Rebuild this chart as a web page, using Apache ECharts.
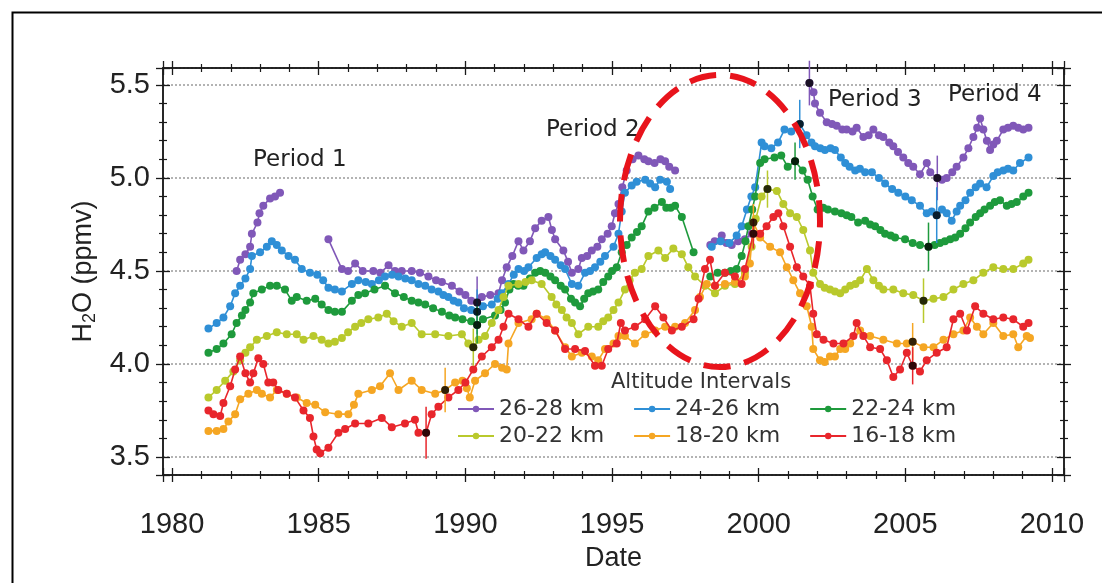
<!DOCTYPE html>
<html>
<head>
<meta charset="utf-8">
<script src="https://cdn.jsdelivr.net/npm/echarts@6.0.0/dist/echarts.min.js"></script>
<style>
html,body{margin:0;padding:0;background:#fff;}
#c{width:1102px;height:583px;}
</style>
</head>
<body>
<div id="c"></div>
<script>
// ---------- DATA (decimal year, H2O ppmv); null = gap in record ----------
const seriesNames = ['26-28 km','24-26 km','22-24 km','20-22 km','18-20 km','16-18 km'];
const seriesColors = ['#8058b8','#2f8fd6','#1e9a3c','#b9c92c','#f5a623','#e8262c'];

const alt26_28 = [
 [1982.2,4.50],[1982.32,4.56],[1982.5,4.59],[1982.66,4.63],[1982.72,4.70],[1982.91,4.76],[1982.98,4.81],[1983.11,4.85],[1983.34,4.89],[1983.51,4.90],[1983.68,4.92],
 null,
 [1985.33,4.67],[1985.79,4.51],[1986.0,4.50],[1986.24,4.54],[1986.5,4.50],[1986.86,4.50],[1987.1,4.49],[1987.38,4.53],[1987.6,4.50],[1987.83,4.50],[1988.17,4.50],[1988.45,4.49],[1988.74,4.47],[1989.0,4.45],[1989.2,4.44],[1989.54,4.42],[1989.8,4.39],[1990.0,4.37],[1990.2,4.34],[1990.4,4.33],[1990.56,4.36],[1990.85,4.37],[1991.13,4.38],[1991.25,4.45],[1991.41,4.52],[1991.6,4.58],[1991.81,4.66],[1991.98,4.61],[1992.2,4.66],[1992.38,4.73],[1992.6,4.77],[1992.83,4.79],[1992.95,4.72],[1993.06,4.67],[1993.34,4.61],[1993.5,4.55],[1993.63,4.49],[1993.85,4.51],[1993.97,4.57],[1994.15,4.58],[1994.31,4.61],[1994.5,4.63],[1994.65,4.67],[1994.85,4.70],[1994.99,4.74],[1995.1,4.81],[1995.22,4.86],[1995.35,4.95],[1995.5,5.04],[1995.7,5.10],[1995.9,5.12],[1996.1,5.10],[1996.24,5.09],[1996.45,5.08],[1996.65,5.10],[1996.81,5.09],[1996.95,5.06],[1997.15,5.04],
 null,
 [1998.35,4.64],[1998.5,4.66],[1998.74,4.69],[1998.9,4.65],[1999.08,4.64],[1999.3,4.66],[1999.53,4.67],[1999.76,4.70],
 null,
 [2001.73,5.51],[2001.87,5.46],[2001.92,5.40],[2002.09,5.35],[2002.32,5.30],[2002.5,5.29],[2002.66,5.28],[2002.85,5.26],[2003.0,5.26],[2003.2,5.25],[2003.34,5.27],[2003.57,5.22],[2003.75,5.23],[2003.91,5.26],[2004.1,5.23],[2004.25,5.22],[2004.45,5.19],[2004.59,5.17],[2004.75,5.14],[2004.93,5.11],[2005.1,5.08],[2005.27,5.06],[2005.5,5.02],[2005.73,5.08],[2005.85,5.03],[2006.09,5.00],[2006.25,4.99],[2006.41,5.00],[2006.6,5.03],[2006.75,5.06],[2006.98,5.11],[2007.15,5.16],[2007.32,5.22],[2007.45,5.27],[2007.55,5.32],[2007.66,5.26],[2007.78,5.20],[2007.89,5.15],[2008.0,5.18],[2008.12,5.20],[2008.34,5.26],[2008.5,5.27],[2008.68,5.28],[2008.85,5.27],[2009.02,5.26],[2009.2,5.27]
];

const alt24_26 = [
 [1981.24,4.19],[1981.52,4.22],[1981.75,4.25],[1981.98,4.31],[1982.15,4.38],[1982.32,4.42],[1982.5,4.46],[1982.66,4.51],[1982.72,4.58],[1983.0,4.60],[1983.23,4.63],[1983.4,4.66],[1983.57,4.64],[1983.74,4.61],[1983.97,4.58],[1984.19,4.56],[1984.42,4.51],[1984.7,4.49],[1984.95,4.48],[1985.15,4.45],[1985.33,4.41],[1985.55,4.40],[1985.79,4.39],[1986.13,4.43],[1986.35,4.45],[1986.6,4.44],[1986.81,4.43],[1987.05,4.45],[1987.26,4.47],[1987.5,4.48],[1987.72,4.47],[1987.95,4.46],[1988.17,4.45],[1988.4,4.43],[1988.63,4.42],[1988.85,4.40],[1989.08,4.39],[1989.25,4.37],[1989.42,4.36],[1989.6,4.34],[1989.76,4.33],[1989.95,4.30],[1990.2,4.29],[1990.4,4.28],[1990.6,4.31],[1990.9,4.32],[1991.1,4.35],[1991.24,4.38],[1991.47,4.43],[1991.65,4.48],[1991.81,4.51],[1992.0,4.50],[1992.15,4.52],[1992.43,4.57],[1992.6,4.59],[1992.72,4.60],[1992.9,4.58],[1993.06,4.56],[1993.25,4.53],[1993.4,4.51],[1993.63,4.43],[1993.85,4.42],[1994.08,4.49],[1994.25,4.50],[1994.42,4.52],[1994.6,4.55],[1994.76,4.58],[1995.05,4.63],[1995.22,4.70],[1995.33,4.82],[1995.44,4.92],[1995.67,4.96],[1995.84,4.98],[1996.13,4.99],[1996.3,4.97],[1996.47,4.95],[1996.64,4.99],[1996.87,4.98],[1996.98,4.94],
 null,
 [1998.4,4.63],[1998.7,4.66],[1999.0,4.65],[1999.25,4.69],[1999.42,4.74],[1999.6,4.83],[1999.75,4.90],[1999.88,4.95],[2000.1,5.19],[2000.2,5.17],[2000.43,5.16],[2000.66,5.19],[2000.88,5.26],[2001.11,5.25],[2001.4,5.29],[2001.63,5.23],[2001.8,5.19],[2001.92,5.17],[2002.1,5.16],[2002.26,5.15],[2002.45,5.16],[2002.6,5.15],[2002.8,5.11],[2002.95,5.08],[2003.1,5.06],[2003.29,5.04],[2003.45,5.05],[2003.63,5.03],[2003.86,5.03],[2004.1,5.00],[2004.31,4.97],[2004.55,4.94],[2004.76,4.92],[2005.0,4.90],[2005.22,4.88],[2005.5,4.85],[2005.73,4.81],[2005.9,4.82],[2006.07,4.80],[2006.25,4.83],[2006.41,4.81],[2006.58,4.77],[2006.75,4.82],[2006.87,4.85],[2007.05,4.88],[2007.21,4.92],[2007.4,4.95],[2007.55,4.97],[2007.77,4.95],[2008.0,5.01],[2008.15,5.03],[2008.34,5.04],[2008.5,5.05],[2008.68,5.04],[2008.91,5.08],[2009.2,5.11]
];

const alt22_24 = [
 [1981.24,4.06],[1981.52,4.08],[1981.75,4.11],[1982.03,4.16],[1982.2,4.22],[1982.38,4.26],[1982.5,4.29],[1982.66,4.33],[1982.77,4.38],[1983.06,4.40],[1983.34,4.42],[1983.57,4.42],[1983.85,4.40],[1984.08,4.34],[1984.25,4.36],[1984.59,4.34],[1984.88,4.35],[1985.1,4.32],[1985.33,4.29],[1985.55,4.28],[1985.79,4.28],[1986.13,4.34],[1986.35,4.37],[1986.58,4.38],[1986.9,4.40],[1987.26,4.42],[1987.6,4.38],[1987.9,4.36],[1988.17,4.34],[1988.4,4.33],[1988.63,4.32],[1988.9,4.30],[1989.2,4.28],[1989.45,4.26],[1989.65,4.25],[1989.9,4.24],[1990.2,4.23],[1990.4,4.21],[1990.6,4.24],[1991.01,4.26],[1991.2,4.29],[1991.35,4.33],[1991.5,4.40],[1991.64,4.43],[1991.8,4.42],[1991.98,4.42],[1992.2,4.46],[1992.38,4.49],[1992.55,4.50],[1992.72,4.49],[1992.9,4.47],[1993.06,4.45],[1993.25,4.42],[1993.4,4.40],[1993.6,4.35],[1993.74,4.33],[1993.91,4.31],[1994.05,4.35],[1994.19,4.38],[1994.35,4.39],[1994.53,4.40],[1994.7,4.44],[1994.87,4.47],[1995.0,4.50],[1995.16,4.52],[1995.33,4.60],[1995.5,4.64],[1995.67,4.68],[1995.85,4.71],[1996.01,4.74],[1996.24,4.82],[1996.45,4.84],[1996.7,4.87],[1996.85,4.84],[1997.0,4.84],[1997.15,4.85],[1997.38,4.79],[1997.78,4.60],
 null,
 [1998.35,4.47],[1998.6,4.49],[1998.85,4.49],[1999.05,4.50],[1999.25,4.51],[1999.42,4.58],[1999.55,4.66],[1999.65,4.74],[1999.78,4.83],[1999.88,4.90],[2000.05,5.08],[2000.2,5.10],[2000.54,5.11],[2000.77,5.12],[2000.99,5.06],[2001.24,5.09],[2001.5,5.04],[2001.67,4.99],[2001.84,4.90],[2002.01,4.83],[2002.2,4.84],[2002.36,4.83],[2002.6,4.82],[2002.82,4.81],[2003.0,4.80],[2003.16,4.79],[2003.39,4.76],[2003.63,4.77],[2003.8,4.75],[2003.97,4.74],[2004.15,4.72],[2004.31,4.70],[2004.5,4.69],[2004.65,4.68],[2004.99,4.67],[2005.25,4.65],[2005.5,4.64],[2005.79,4.63],[2006.0,4.64],[2006.18,4.65],[2006.35,4.66],[2006.53,4.67],[2006.7,4.68],[2006.87,4.70],[2007.05,4.73],[2007.21,4.76],[2007.4,4.79],[2007.55,4.81],[2007.7,4.83],[2007.89,4.85],[2008.05,4.87],[2008.23,4.88],[2008.46,4.85],[2008.62,4.86],[2008.8,4.87],[2009.02,4.90],[2009.2,4.92]
];

const alt20_22 = [
 [1981.24,3.82],[1981.52,3.86],[1981.81,3.91],[1982.09,3.96],[1982.32,4.02],[1982.5,4.06],[1982.66,4.09],[1982.89,4.13],[1983.23,4.15],[1983.57,4.17],[1983.91,4.16],[1984.25,4.16],[1984.48,4.13],[1984.82,4.15],[1985.1,4.13],[1985.33,4.11],[1985.55,4.12],[1985.79,4.14],[1986.0,4.17],[1986.24,4.20],[1986.45,4.22],[1986.69,4.24],[1987.03,4.25],[1987.32,4.27],[1987.55,4.23],[1987.83,4.20],[1988.17,4.22],[1988.51,4.16],[1988.97,4.16],[1989.42,4.15],[1989.88,4.16],[1990.1,4.11],[1990.27,4.09],[1990.45,4.13],[1990.67,4.15],[1990.9,4.22],[1991.13,4.29],[1991.3,4.36],[1991.47,4.42],[1991.81,4.43],[1992.05,4.44],[1992.26,4.45],[1992.6,4.43],[1992.94,4.36],[1993.1,4.32],[1993.29,4.29],[1993.45,4.25],[1993.63,4.22],[1993.85,4.16],[1994.19,4.20],[1994.53,4.20],[1994.7,4.23],[1994.87,4.25],[1995.05,4.29],[1995.22,4.33],[1995.44,4.40],[1995.6,4.45],[1995.78,4.49],[1996.01,4.51],[1996.24,4.58],[1996.58,4.61],[1996.81,4.57],[1997.09,4.62],[1997.38,4.59],[1997.6,4.52],[1997.83,4.47],[1998.17,4.42],[1998.51,4.38],[1998.85,4.42],[1999.19,4.43],[1999.53,4.49],[1999.76,4.63],[1999.9,4.78],[2000.1,4.90],[2000.3,4.94],[2000.62,4.93],[2000.84,4.86],[2001.07,4.81],[2001.3,4.79],[2001.52,4.72],[2001.75,4.61],[2001.86,4.49],[2002.09,4.43],[2002.25,4.41],[2002.43,4.40],[2002.6,4.39],[2002.78,4.38],[2002.95,4.40],[2003.12,4.42],[2003.3,4.43],[2003.46,4.45],[2003.69,4.51],[2003.91,4.45],[2004.1,4.42],[2004.25,4.40],[2004.59,4.40],[2004.93,4.38],[2005.27,4.37],[2005.62,4.34],[2005.96,4.35],[2006.3,4.36],[2006.64,4.40],[2006.98,4.43],[2007.32,4.45],[2007.66,4.49],[2008.0,4.52],[2008.34,4.51],[2008.68,4.51],[2009.02,4.54],[2009.2,4.56]
];

const alt18_20 = [
 [1981.24,3.64],[1981.52,3.64],[1981.75,3.65],[1981.92,3.69],[1982.15,3.73],[1982.32,3.81],[1982.6,3.84],[1982.89,3.86],[1983.06,3.84],[1983.34,3.82],[1983.57,3.86],[1983.91,3.84],[1984.25,3.82],[1984.59,3.79],[1984.88,3.78],[1985.22,3.74],[1985.67,3.73],[1986.01,3.73],[1986.2,3.78],[1986.35,3.84],[1986.81,3.86],[1987.09,3.88],[1987.43,3.95],[1987.72,3.86],[1988.17,3.91],[1988.51,3.86],[1988.97,3.84],[1989.31,3.86],[1989.65,3.90],[1989.9,3.91],[1990.05,3.87],[1990.15,3.82],[1990.33,3.91],[1990.67,3.95],[1991.01,4.00],[1991.25,3.98],[1991.41,3.97],[1991.47,4.11],[1991.81,4.22],[1992.26,4.24],[1992.43,4.27],[1992.77,4.24],[1993.06,4.18],[1993.4,4.09],[1993.63,4.04],[1993.97,4.06],[1994.31,4.04],[1994.53,4.02],[1994.76,4.08],[1995.05,4.11],[1995.22,4.15],[1995.44,4.15],[1995.78,4.11],[1996.13,4.16],[1996.47,4.18],[1996.81,4.20],[1997.15,4.20],[1997.49,4.22],[1997.83,4.29],[1998.0,4.36],[1998.23,4.43],[1998.51,4.42],[1998.85,4.43],[1999.19,4.44],[1999.53,4.47],[1999.7,4.54],[1999.82,4.76],[2000.05,4.68],[2000.39,4.63],[2000.73,4.60],[2000.96,4.52],[2001.18,4.45],[2001.41,4.38],[2001.64,4.31],[2001.81,4.20],[2001.86,4.08],[2002.09,4.02],[2002.25,4.01],[2002.43,4.04],[2002.6,4.04],[2002.78,4.08],[2002.95,4.08],[2003.12,4.11],[2003.46,4.18],[2003.8,4.15],[2004.25,4.13],[2004.71,4.11],[2005.05,4.11],[2005.25,4.12],[2005.62,4.09],[2005.96,4.09],[2006.3,4.13],[2006.64,4.16],[2006.98,4.18],[2007.21,4.25],[2007.44,4.20],[2007.66,4.16],[2008.0,4.22],[2008.34,4.15],[2008.68,4.16],[2008.85,4.09],[2009.14,4.15],[2009.25,4.14]
];

const alt16_18 = [
 [1981.24,3.75],[1981.41,3.73],[1981.64,3.72],[1981.75,3.79],[1981.98,3.88],[1982.15,3.97],[1982.32,4.04],[1982.5,3.95],[1982.66,3.90],[1982.77,3.95],[1982.94,4.03],[1983.11,4.00],[1983.28,3.90],[1983.45,3.90],[1983.62,3.86],[1983.91,3.84],[1984.19,3.82],[1984.48,3.75],[1984.7,3.71],[1984.82,3.61],[1984.93,3.54],[1985.05,3.52],[1985.33,3.55],[1985.67,3.63],[1985.9,3.65],[1986.24,3.68],[1986.69,3.68],[1987.15,3.71],[1987.49,3.66],[1987.94,3.68],[1988.28,3.70],[1988.4,3.63],[1988.66,3.63],[1988.85,3.73],[1989.08,3.77],[1989.42,3.82],[1989.76,3.86],[1990.0,3.90],[1990.27,3.97],[1990.56,4.04],[1990.9,4.09],[1991.13,4.13],[1991.3,4.20],[1991.47,4.27],[1991.81,4.24],[1992.15,4.20],[1992.43,4.27],[1992.77,4.22],[1993.06,4.18],[1993.4,4.08],[1993.74,4.08],[1994.08,4.07],[1994.42,3.99],[1994.65,3.99],[1994.87,4.08],[1995.16,4.11],[1995.3,4.22],[1995.44,4.18],[1995.78,4.20],[1996.13,4.24],[1996.47,4.31],[1996.75,4.25],[1997.04,4.18],[1997.38,4.20],[1997.78,4.24],[1997.95,4.35],[1998.17,4.51],[1998.34,4.56],[1998.51,4.42],[1998.85,4.49],[1999.19,4.47],[1999.42,4.43],[1999.53,4.51],[1999.82,4.70],[2000.05,4.70],[2000.27,4.74],[2000.5,4.79],[2000.67,4.81],[2000.84,4.74],[2001.07,4.63],[2001.3,4.52],[2001.52,4.47],[2001.75,4.42],[2001.86,4.27],[2001.98,4.16],[2002.21,4.13],[2002.55,4.11],[2002.89,4.11],[2003.23,4.15],[2003.34,4.22],[2003.57,4.15],[2003.8,4.09],[2004.14,4.08],[2004.37,4.02],[2004.59,3.93],[2004.82,3.97],[2005.05,4.06],[2005.25,3.99],[2005.5,3.96],[2005.73,4.02],[2006.07,4.06],[2006.41,4.09],[2006.64,4.24],[2006.87,4.27],[2007.1,4.18],[2007.38,4.31],[2007.66,4.27],[2008.0,4.24],[2008.34,4.25],[2008.68,4.24],[2009.02,4.20],[2009.2,4.22]
];

// period-boundary points: [year, ppmv, half error bar, series index]
const boundaryPoints = [
 [1990.4,4.33,0.14,0],[1990.4,4.28,0.12,1],[1990.4,4.21,0.10,2],[1990.27,4.09,0.10,3],[1989.31,3.86,0.12,4],[1988.66,3.63,0.14,5],
 [2001.73,5.51,0.12,0],[2001.4,5.29,0.13,1],[2001.24,5.09,0.10,2],[2000.3,4.94,0.10,3],[1999.82,4.76,0.10,4],[1999.82,4.70,0.08,5],
 [2006.09,5.00,0.12,0],[2006.07,4.80,0.15,1],[2005.79,4.63,0.13,2],[2005.62,4.34,0.12,3],[2005.25,4.12,0.10,4],[2005.25,3.99,0.10,5]
];

const periodLabels = ['Period 1','Period 2','Period 3','Period 4'];
const xTickYears = [1980,1985,1990,1995,2000,2005,2010];
const yTickValues = [3.5,4.0,4.5,5.0,5.5];

// ---------- CHART ----------
const allSeriesData = [alt26_28, alt24_26, alt22_24, alt20_22, alt18_20, alt16_18];
const toLine = arr => arr.map(p => p === null ? ['-','-'] : p);

const X_MIN = 1979.69, X_MAX = 2010.41, Y_MIN = 3.403, Y_MAX = 5.591;
const AX = '#1a1a1a';
const tickFont = 'Liberation Sans';
const txtFont = 'DejaVu Sans';

function xAx(pos, inside, withLabel) {
  return {
    type: 'value', position: pos, min: X_MIN, max: X_MAX, splitNumber: 6, gridIndex: 0,
    axisLine: {show: true, lineStyle: {color: AX, width: 1.5}},
    axisTick: {show: true, inside: inside, length: 7, lineStyle: {color: AX, width: 1.3}},
    minorTick: {show: true, splitNumber: 5, length: 4, lineStyle: {color: AX, width: 1.2}},
    splitLine: {show: false}, minorSplitLine: {show: false},
    axisLabel: withLabel ? {
      show: true, fontFamily: tickFont, fontSize: 29, color: '#222', margin: 35,
      showMinLabel: false, showMaxLabel: false,
      formatter: v => (xTickYears.indexOf(Math.round(v)) >= 0 && Math.abs(v - Math.round(v)) < 1e-6) ? String(Math.round(v)) : ''
    } : {show: false},
    name: withLabel ? 'Date' : '', nameLocation: 'middle', nameGap: 70,
    nameTextStyle: {fontFamily: tickFont, fontSize: 27, color: '#222'}
  };
}
function yAx(pos, inside, withLabel, withSplit) {
  return {
    type: 'value', position: pos, min: Y_MIN, max: Y_MAX, splitNumber: 4, gridIndex: 0,
    axisLine: {show: true, lineStyle: {color: AX, width: 1.5}},
    axisTick: {show: true, inside: inside, length: 7, lineStyle: {color: AX, width: 1.3}},
    minorTick: {show: true, splitNumber: 5, length: 4, lineStyle: {color: AX, width: 1.2}},
    splitLine: withSplit ? {show: true, lineStyle: {color: '#9a9a9a', type: [2, 2], width: 1.5}} : {show: false},
    minorSplitLine: {show: false},
    axisLabel: withLabel ? {
      show: true, fontFamily: tickFont, fontSize: 29, color: '#222', margin: 13,
      showMinLabel: false, showMaxLabel: false,
      formatter: v => {
        const r = Math.round(v * 10) / 10;
        return (Math.abs(v - r) < 1e-6 && yTickValues.some(t => Math.abs(t - r) < 1e-6)) ? r.toFixed(1) : '';
      }
    } : {show: false},
    name: withLabel ? '{a|H}{b|2}{a|O (ppmv)}' : '', nameLocation: 'middle', nameGap: 50, nameRotate: 90,
    nameTextStyle: {
      color: '#222',
      rich: {
        a: {fontFamily: tickFont, fontSize: 27, color: '#222', lineHeight: 30, verticalAlign: 'middle'},
        b: {fontFamily: tickFont, fontSize: 18, color: '#222', lineHeight: 30, verticalAlign: 'bottom', padding: [10, 0, 0, 0]}
      }
    }
  };
}

const series = [];
allSeriesData.forEach((arr, i) => {
  series.push({
    name: seriesNames[i], type: 'line', xAxisIndex: 0, yAxisIndex: 0,
    data: toLine(arr), connectNulls: false, clip: false,
    symbol: 'circle', symbolSize: 8, showSymbol: true,
    itemStyle: {color: seriesColors[i]},
    lineStyle: {color: seriesColors[i], width: 1.6},
    emphasis: {disabled: true}, z: 2 + i
  });
});
series.push({
  type: 'custom', name: 'errbars', xAxisIndex: 0, yAxisIndex: 0, z: 9,
  data: boundaryPoints, encode: {x: 0, y: 1},
  renderItem: (params, api) => {
    const x = api.value(0), y = api.value(1), e = api.value(2), c = seriesColors[api.value(3)];
    const a = api.coord([x, y + e]), b = api.coord([x, y - e]);
    return {type: 'line', shape: {x1: a[0], y1: a[1], x2: b[0], y2: b[1]}, style: {stroke: c, lineWidth: 1.5}};
  }
});
series.push({
  type: 'scatter', name: 'boundary', xAxisIndex: 0, yAxisIndex: 0, z: 10,
  data: boundaryPoints.map(p => [p[0], p[1]]),
  symbol: 'circle', symbolSize: 8, itemStyle: {color: '#000'}, emphasis: {disabled: true}
});

const legendCommon = {
  orient: 'horizontal', itemWidth: 36, itemHeight: 8, itemGap: 29, selectedMode: false,
  textStyle: {fontFamily: txtFont, fontSize: 22, color: '#333'}, padding: 0
};

const option = {
  animation: false,
  backgroundColor: '#fff',
  grid: {left: 163, right: 38, top: 68, bottom: 108, containLabel: false},
  xAxis: [xAx('bottom', false, true), xAx('bottom', true, false), xAx('top', false, false), xAx('top', true, false)],
  yAxis: [yAx('left', false, true, true), yAx('left', true, false, false), yAx('right', false, false, false), yAx('right', true, false, false)],
  legend: [
    Object.assign({}, legendCommon, {data: seriesNames.slice(0, 3), left: 457, top: 398}),
    Object.assign({}, legendCommon, {data: seriesNames.slice(3), left: 457, top: 425})
  ],
  graphic: [
    {type: 'rect', left: 10, top: 10, shape: {width: 1200, height: 1000}, style: {fill: 'none', stroke: '#000', lineWidth: 2}, z: 0, silent: true},
    {type: 'text', x: 611, y: 372, style: {text: 'Altitude Intervals', fontFamily: txtFont, fontSize: 21, fill: '#333'}, z: 20},
    {type: 'text', x: 253, y: 149, style: {text: periodLabels[0], fontFamily: txtFont, fontSize: 23, fill: '#222'}, z: 20},
    {type: 'text', x: 546, y: 119, style: {text: periodLabels[1], fontFamily: txtFont, fontSize: 23, fill: '#222'}, z: 20},
    {type: 'text', x: 828, y: 89, style: {text: periodLabels[2], fontFamily: txtFont, fontSize: 23, fill: '#222'}, z: 20},
    {type: 'text', x: 948, y: 84, style: {text: periodLabels[3], fontFamily: txtFont, fontSize: 23, fill: '#222'}, z: 20},
    {type: 'ellipse', shape: {cx: 720, cy: 221, rx: 100, ry: 146},
     style: {fill: 'none', stroke: '#e8141c', lineWidth: 6, lineDash: [27, 14]}, z: 30, silent: true}
  ],
  series: series
};

const chart = echarts.init(document.getElementById('c'), null, {renderer: 'canvas'});
chart.setOption(option);
</script>
</body>
</html>
